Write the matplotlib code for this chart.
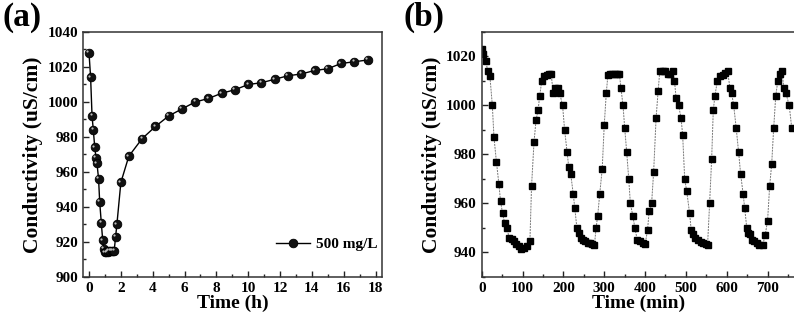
import matplotlib
matplotlib.use('Agg')
from matplotlib import pyplot as plt
from matplotlib.ticker import MultipleLocator
from matplotlib.transforms import offset_copy

# (a) conductivity vs time, 500 mg/L
time_h = [0, 0.1, 0.19, 0.27, 0.36, 0.44, 0.5, 0.6, 0.67, 0.77, 0.86, 0.92,
          1.0, 1.08, 1.17, 1.25, 1.33, 1.42, 1.5, 1.58, 1.67, 1.75, 2.0, 2.5,
          3.33, 4.17, 5.0, 5.83, 6.67, 7.5, 8.33, 9.17, 10.0, 10.83, 11.67,
          12.5, 13.33, 14.17, 15.0, 15.83, 16.67, 17.5]
cond_a = [1028, 1014, 992, 984, 974, 968, 965, 956, 943, 931, 921, 916,
          914, 914, 914.5, 915, 915, 915, 915, 915, 923, 930, 954, 969,
          979, 986, 992, 996, 1000, 1002, 1005, 1007, 1010, 1011, 1013,
          1015, 1016, 1018, 1019, 1022, 1023, 1024]
legend_a = '500 mg/L'

# (b) cycling test
time_min = [0, 4, 10, 15, 20, 26, 30, 36, 42, 46, 51, 56, 62, 67, 73, 79,
            85, 91, 97, 104, 110, 118, 122, 128, 133, 138, 142, 147, 152,
            159, 165, 170, 175, 180, 186, 191, 198, 203, 209, 213, 218, 224,
            228, 233, 237, 242, 248, 254, 260, 265, 270, 276, 280, 284, 289,
            295, 300, 305, 309, 314, 319, 326, 332, 337, 341, 346, 350, 355,
            360, 364, 370, 375, 381, 387, 394, 400, 406, 410, 416, 421, 427,
            432, 436, 443, 450, 455, 462, 468, 472, 476, 482, 488, 492, 497,
            502, 509, 513, 518, 523, 529, 536, 541, 548, 553, 558, 563, 567,
            571, 577, 583, 590, 595, 602, 608, 612, 617, 623, 629, 634, 640,
            644, 649, 653, 658, 661, 667, 673, 680, 688, 694, 700, 705, 710,
            715, 720, 725, 730, 735, 740, 745, 753, 759]
cond_b = [1023, 1021, 1018, 1014, 1012, 1000, 987, 977, 968, 961, 956, 952,
          950, 946, 945.5, 944.5, 943.5, 942.5, 941.5, 942, 942.5, 944.5,
          967, 985, 994, 998, 1004, 1010, 1012, 1012.5, 1013, 1013, 1005,
          1007, 1007, 1005, 1000, 990, 981, 975, 972, 964, 958, 950, 948,
          946, 945.3, 944.8, 944, 943.7, 943.3, 943, 950, 955, 964, 974, 992,
          1005, 1012.5, 1013, 1013, 1013, 1013, 1013, 1007, 1000, 991, 981,
          970, 960, 955, 950, 945, 944.8, 944, 943.3, 949, 957, 960, 973,
          995, 1006, 1014, 1014, 1014, 1013, 1013, 1014, 1010, 1003, 1000,
          995, 988, 970, 965, 956, 949, 947.5, 946, 945, 944.4, 943.7, 943.3,
          943, 960, 978, 998, 1004, 1010, 1012, 1012.5, 1013.2, 1014, 1007,
          1005, 1000, 991, 981, 972, 964, 958, 950, 948, 947.5, 945.3, 944.8,
          944, 943, 943, 947, 953, 967, 976, 991, 1004, 1010, 1013, 1014,
          1007, 1005, 1000, 991]

plt.rcParams['font.family'] = ['Liberation Serif', 'DejaVu Serif']
plt.rcParams['font.weight'] = 'bold'

fig = plt.figure(figsize=(7.94, 3.19), dpi=100)
ax1 = fig.add_axes([0.1045, 0.1317, 0.3765, 0.768])
ax2 = fig.add_axes([0.6067, 0.1317, 0.3945, 0.768])


def style_axes(ax):
    for s in ax.spines.values():
        s.set_color('#333333')
        s.set_linewidth(1.1)
    ax.tick_params(which='both', direction='in', top=False, right=False,
                   colors='#222222', labelsize=11)
    ax.tick_params(which='major', length=4, width=1, pad=3.5)
    ax.tick_params(which='minor', length=2, width=1)
    for lab in ax.get_xticklabels() + ax.get_yticklabels():
        lab.set_fontweight('bold')
        lab.set_color('black')


# panel (a)
ax1.plot(time_h, cond_a, '-o', color='black', lw=1, ms=6.2,
         mfc='#111111', mec='black', mew=0.6, label=legend_a)
hl = offset_copy(ax1.transData, fig=fig, x=-1.1, y=1.1, units='points')
ax1.plot(time_h, cond_a, 'o', ms=1.6, color='#bbbbbb', mew=0, transform=hl)
ax1.set_xlim(-0.38, 18.4)
ax1.set_ylim(900, 1040)
ax1.xaxis.set_major_locator(MultipleLocator(2))
ax1.xaxis.set_minor_locator(MultipleLocator(1))
ax1.yaxis.set_major_locator(MultipleLocator(20))
ax1.yaxis.set_minor_locator(MultipleLocator(10))
ax1.set_xlabel('Time (h)', fontsize=14, fontweight='bold', labelpad=0)
ax1.set_ylabel('Conductivity (uS/cm)', fontsize=15.5, fontweight='bold',
               labelpad=3)
ax1.legend(loc='lower right', bbox_to_anchor=(1.03, 0.05), frameon=False,
           prop={'size': 11, 'weight': 'bold'}, handlelength=2.2,
           handletextpad=0.4)
style_axes(ax1)

# panel (b)
ax2.plot(time_min, cond_b, color='#777777', lw=0.7, ls=(0, (2, 1)))
ax2.plot(time_min, cond_b, 's', color='black', ms=4)
ax2.set_xlim(0, 767)
ax2.set_ylim(930, 1030)
ax2.xaxis.set_major_locator(MultipleLocator(100))
ax2.xaxis.set_minor_locator(MultipleLocator(50))
ax2.yaxis.set_major_locator(MultipleLocator(20))
ax2.yaxis.set_minor_locator(MultipleLocator(10))
ax2.set_xlabel('Time (min)', fontsize=14, fontweight='bold', labelpad=0)
ax2.set_ylabel('Conductivity (uS/cm)', fontsize=15.5, fontweight='bold',
               labelpad=3)
style_axes(ax2)
ax2.spines['right'].set_visible(False)

fig.text(0.003, 0.995, '(a)', fontsize=24, fontweight='bold', va='top')
fig.text(0.508, 0.995, '(b)', fontsize=24, fontweight='bold', va='top')

fig.savefig('out.png', dpi=100)
